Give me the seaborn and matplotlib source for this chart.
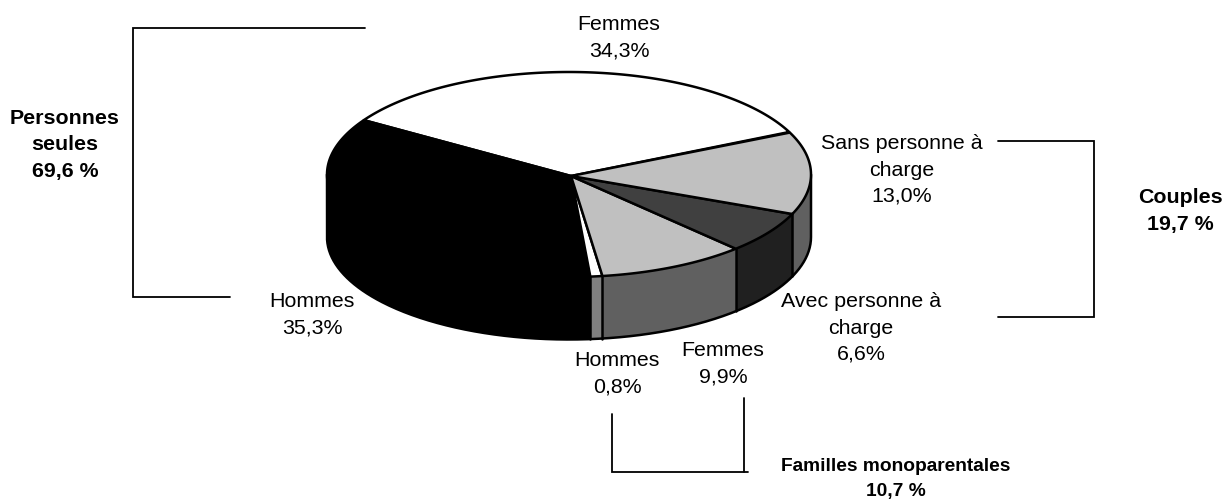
import numpy as np
import seaborn as sns
import matplotlib.pyplot as plt

# parts du camembert, dans le sens du tracé
categories = ["Femmes", "Hommes", "Hommes", "Femmes", "Avec personne à\ncharge", "Sans personne à\ncharge"]
values = [34.3, 35.3, 0.8, 9.9, 6.6, 13.0]
value_labels = ["34,3%", "35,3%", "0,8%", "9,9%", "6,6%", "13,0%"]
top_colors = ["#ffffff", "#000000", "#ffffff", "#c0c0c0", "#404040", "#c0c0c0"]
side_colors = ["#606060", "#000000", "#808080", "#606060", "#202020", "#606060"]

# positions des étiquettes (pixels de l'image), même ordre que categories
label_pos = [(619, 38), (312, 315), (617, 374), (723, 364), (861, 328), (902, 170)]

group_labels = ["Personnes\nseules\n69,6 %", "Couples\n19,7 %", "Familles monoparentales\n10,7 %"]
group_pos = [(65, 145), (1180, 211), (896, 479)]
group_sizes = [15.4, 15.4, 13.8]
group_spacing = [1.48, 1.48, 1.6]

brackets = [
    ([365, 133, 133, 230], [28, 28, 297, 297]),
    ([998, 1094, 1094, 998], [141, 141, 317, 317]),
    ([612, 612, 748], [414, 472, 472]),
    ([744, 744], [398, 472]),
]

CX, CY = 569, 174.5
RX, RY = 242, 102.5
APEX = (571, 176)
DEPTH = 62.5
START = 24.5


def ellipse_pts(a0, a1):
    t = np.radians(np.linspace(a0, a1, max(int(abs(a1 - a0)) * 2, 2) + 1))
    return CX + RX * np.cos(t), CY - RY * np.sin(t)


sns.set_theme(style="white")
plt.rcParams["font.family"] = ["Liberation Sans", "DejaVu Sans"]

fig, ax = plt.subplots(figsize=(12.24, 5.01), dpi=100)
fig.subplots_adjust(left=0, right=1, bottom=0, top=1)

edges = START + np.concatenate([[0], np.cumsum(values)]) * 3.6

# flanc visible : seulement la moitié avant (180° à 360°)
for i, col in enumerate(side_colors):
    a0 = max(edges[i], 180)
    a1 = min(edges[i + 1], 360)
    if a1 <= a0:
        continue
    x, y = ellipse_pts(a0, a1)
    ax.fill(np.r_[x, x[::-1]], np.r_[y, y[::-1] + DEPTH], fc=col, ec="none", zorder=1)

# séparations verticales sur le flanc
for a in edges:
    if 180 < a < 360:
        x, y = ellipse_pts(a, a)
        ax.plot([x[0], x[0]], [y[0], y[0] + DEPTH], color="black", lw=1.8, zorder=2)

# contour du flanc
x, y = ellipse_pts(180, 360)
ax.plot(np.r_[CX - RX, x, CX + RX], np.r_[CY, y + DEPTH, CY], color="black", lw=1.8, solid_joinstyle="round", zorder=2)

# dessus
for i, col in enumerate(top_colors):
    x, y = ellipse_pts(edges[i], edges[i + 1])
    ax.fill(np.r_[APEX[0], x, APEX[0]], np.r_[APEX[1], y, APEX[1]], fc=col, ec="black", lw=1.8, joinstyle="round", zorder=3)

for name, val, (px, py) in zip(categories, value_labels, label_pos):
    ax.text(px, py, f"{name}\n{val}", ha="center", va="center", fontsize=15.4, linespacing=1.48, color="black", zorder=5)

for txt, (px, py), fs, sp in zip(group_labels, group_pos, group_sizes, group_spacing):
    ax.text(px, py, txt, ha="center", va="center", fontsize=fs, fontweight="bold", linespacing=sp, color="black", zorder=5)

for bx, by in brackets:
    ax.plot(bx, by, color="black", lw=1.3, solid_joinstyle="miter", zorder=4)

ax.set_xlim(0, 1224)
ax.set_ylim(501, 0)
ax.axis("off")

fig.savefig("out.png", dpi=100)
plt.close(fig)
